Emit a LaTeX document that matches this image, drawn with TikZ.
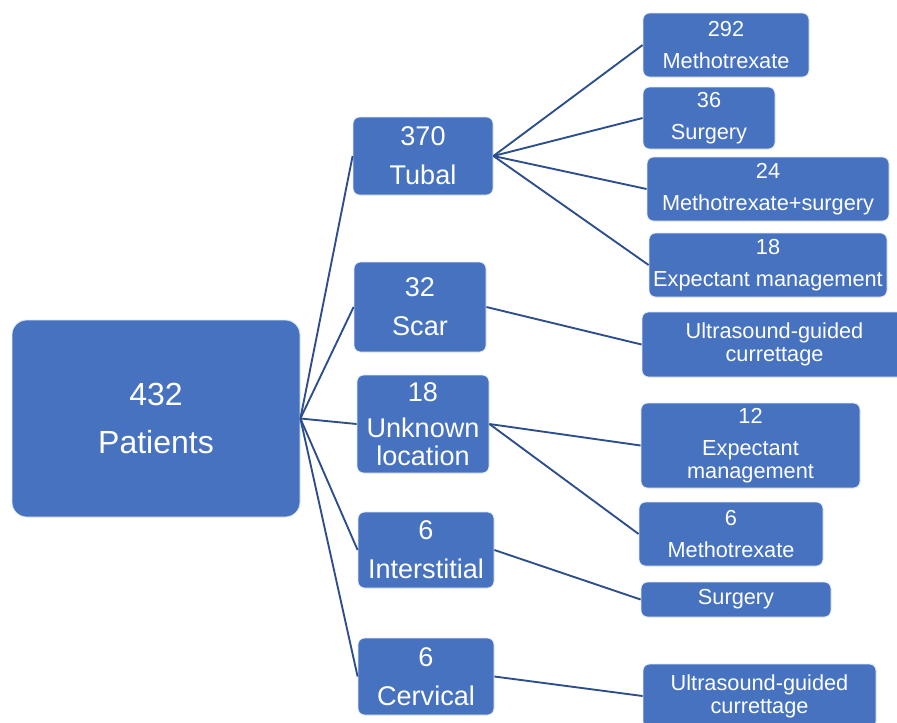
\documentclass[tikz,border=0pt]{standalone}
\usepackage{fontspec}
\setmainfont{Liberation Sans}
\definecolor{boxblue}{RGB}{70,114,192}
\definecolor{linkblue}{RGB}{44,78,140}
\tikzset{
  x=0.75pt, y=-0.75pt,
  bx/.style 2 args={draw=white!85!boxblue, line width=0.6pt, fill=boxblue, text=white,
    rounded corners=5pt, align=center, inner sep=0pt,
    minimum width=#1*0.75pt, minimum height=#2*0.75pt},
  lvlzero/.style={font=\fontsize{24}{28.8}\selectfont, rounded corners=11pt},
  lvlone/.style={font=\fontsize{20.3}{21}\selectfont},
  lvltwo/.style={font=\fontsize{16.3}{17.4}\selectfont},
  link/.style={draw=linkblue, line width=1.4pt},
}
\begin{document}
\begin{tikzpicture}
\useasboundingbox (0,0) rectangle (897,722);
\clip (0,0) rectangle (897,722);
\fill[white] (0,0) rectangle (897,722);

% root
\node[bx={288}{197}, lvlzero] (pat) at (156,418.5) {432\\[6.5pt]Patients};

% level 1
\node[bx={140}{78}, lvlone] (tubal) at (423,156) {370\\[8.25pt]Tubal};
\node[bx={132}{90}, lvlone] (scar) at (420,307) {32\\[8.25pt]Scar};
\node[bx={132}{98}, lvlone] (unk) at (423,424) {18\\[6pt]Unknown\\location};
\node[bx={136}{76}, lvlone] (inter) at (426,550) {6\\[8.25pt]Interstitial};
\node[bx={136}{77}, lvlone] (cerv) at (426,676.5) {6\\[8.25pt]Cervical};

% level 2
\node[bx={166}{64}, lvltwo] (m292) at (726,45) {292\\[6.7pt]Methotrexate};
\node[bx={132}{62}, lvltwo] (s36) at (709,118) {36\\[6.7pt]Surgery};
\node[bx={242}{64}, lvltwo] (ms24) at (768,189) {24\\[6.7pt]Methotrexate+surgery};
\node[bx={238}{64}, lvltwo] (em18) at (768,265) {18\\[6.7pt]Expectant management};
\node[bx={265}{65}, lvltwo] (us1) at (774.5,344.5) {Ultrasound-guided\\currettage};
\node[bx={219}{85}, lvltwo] (em12) at (750.5,445.5) {12\\[6.7pt]Expectant\\management};
\node[bx={184}{64}, lvltwo] (m6) at (731,534) {6\\[6.7pt]Methotrexate};
\node[bx={190}{35}, lvltwo] (surg) at (736,599.5) {Surgery};
\node[bx={233}{64}, lvltwo] (us2) at (759.5,696) {Ultrasound-guided\\currettage};

% connectors
\foreach \c in {tubal,scar,unk,inter,cerv}
  \draw[link] (pat.east) -- (\c.west);
\foreach \c in {m292,s36,ms24,em18}
  \draw[link] (tubal.east) -- (\c.west);
\draw[link] (scar.east) -- (us1.west);
\draw[link] (unk.east) -- (em12.west);
\draw[link] (unk.east) -- (m6.west);
\draw[link] (inter.east) -- (surg.west);
\draw[link] (cerv.east) -- (us2.west);
\end{tikzpicture}
\end{document}
